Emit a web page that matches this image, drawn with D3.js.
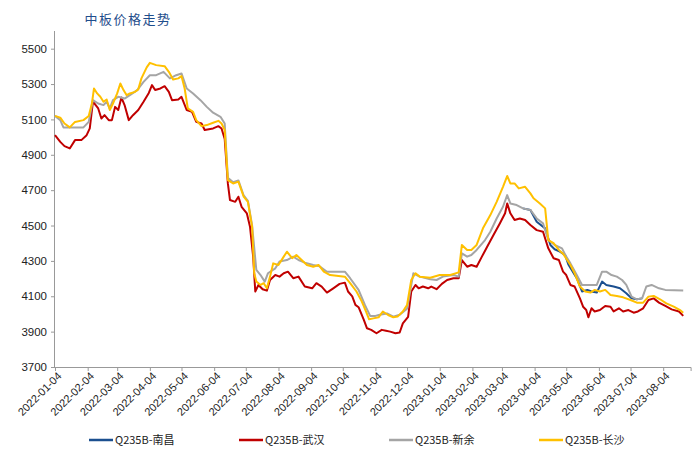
<!DOCTYPE html>
<html>
<head>
<meta charset="utf-8">
<script src="https://cdn.jsdelivr.net/npm/d3@7"></script>
<style>
  body { margin: 0; background: #fff; }
  svg { display: block; }
</style>
</head>
<body>
<svg width="700" height="461"></svg>
<script>
const title = '中板价格走势'

const tickLabels = ['2022-01-04', '2022-02-04', '2022-03-04', '2022-04-04', '2022-05-04', '2022-06-04',
  '2022-07-04', '2022-08-04', '2022-09-04', '2022-10-04', '2022-11-04', '2022-12-04', '2023-01-04',
  '2023-02-04', '2023-03-04', '2023-04-04', '2023-05-04', '2023-06-04', '2023-07-04', '2023-08-04']
const yTicks = [3700, 3900, 4100, 4300, 4500, 4700, 4900, 5100, 5300, 5500]

const seriesNames = ['Q235B-南昌', 'Q235B-武汉', 'Q235B-新余', 'Q235B-长沙']

// 南昌 (only visible where it leaves 新余)
const nanchangDates = ['2023-03-24', '2023-03-31', '2023-04-06', '2023-04-14', '2023-04-19', '2023-04-23',
  '2023-04-28', '2023-05-03', '2023-05-06', '2023-05-14', '2023-05-19', '2023-05-24', '2023-05-28',
  '2023-06-02', '2023-06-07', '2023-06-11', '2023-06-18', '2023-06-24', '2023-06-30', '2023-07-05',
  '2023-07-10', '2023-07-15']
const nanchangPrices = [4597, 4588, 4521, 4484, 4390, 4366, 4352, 4333, 4280, 4202, 4127, 4136, 4127,
  4121, 4183, 4164, 4155, 4145, 4117, 4088, 4083, 4088]

const wuhanDates = ['2022-01-04', '2022-01-09', '2022-01-13', '2022-01-18', '2022-01-23', '2022-01-29',
  '2022-02-03', '2022-02-06', '2022-02-09', '2022-02-14', '2022-02-17', '2022-02-20', '2022-02-24',
  '2022-02-27', '2022-03-02', '2022-03-05', '2022-03-08', '2022-03-11', '2022-03-15', '2022-03-19',
  '2022-03-24', '2022-03-29', '2022-04-03', '2022-04-06', '2022-04-09', '2022-04-14', '2022-04-18',
  '2022-04-22', '2022-04-25', '2022-05-01', '2022-05-04', '2022-05-09', '2022-05-14', '2022-05-18',
  '2022-05-23', '2022-05-26', '2022-06-03', '2022-06-08', '2022-06-11', '2022-06-14', '2022-06-17',
  '2022-06-19', '2022-06-24', '2022-06-27', '2022-06-30', '2022-07-05', '2022-07-08', '2022-07-11',
  '2022-07-13', '2022-07-16', '2022-07-20', '2022-07-24', '2022-07-27', '2022-08-01', '2022-08-05',
  '2022-08-09', '2022-08-13', '2022-08-18', '2022-08-23', '2022-08-29', '2022-09-05', '2022-09-09',
  '2022-09-14', '2022-09-19', '2022-09-25', '2022-10-01', '2022-10-06', '2022-10-09', '2022-10-13',
  '2022-10-16', '2022-10-19', '2022-10-24', '2022-10-27', '2022-10-31', '2022-11-05', '2022-11-10',
  '2022-11-14', '2022-11-18', '2022-11-23', '2022-11-27', '2022-11-30', '2022-12-05', '2022-12-08',
  '2022-12-12', '2022-12-15', '2022-12-19', '2022-12-24', '2022-12-27', '2023-01-01', '2023-01-06',
  '2023-01-11', '2023-01-17', '2023-01-22', '2023-01-25', '2023-01-30', '2023-02-03', '2023-02-08',
  '2023-02-13', '2023-02-18', '2023-02-24', '2023-03-02', '2023-03-07', '2023-03-09', '2023-03-12',
  '2023-03-16', '2023-03-21', '2023-03-26', '2023-03-31', '2023-04-06', '2023-04-12', '2023-04-17',
  '2023-04-22', '2023-04-27', '2023-05-01', '2023-05-04', '2023-05-08', '2023-05-12', '2023-05-17',
  '2023-05-20', '2023-05-23', '2023-05-25', '2023-05-28', '2023-05-31', '2023-06-05', '2023-06-10',
  '2023-06-15', '2023-06-18', '2023-06-23', '2023-06-27', '2023-07-02', '2023-07-07', '2023-07-11',
  '2023-07-16', '2023-07-21', '2023-07-26', '2023-07-31', '2023-08-06', '2023-08-12', '2023-08-19',
  '2023-08-23']
const wuhanPrices = [5011, 4973, 4949, 4936, 4983, 4983, 5011, 5049, 5200, 5162, 5105, 5124, 5096,
  5096, 5171, 5153, 5224, 5181, 5096, 5124, 5153, 5200, 5250, 5294, 5266, 5275, 5288, 5256, 5209,
  5213, 5228, 5153, 5143, 5086, 5077, 5040, 5049, 5062, 5049, 4990, 4738, 4644, 4634, 4663, 4606,
  4569, 4493, 4324, 4127, 4164, 4140, 4132, 4192, 4220, 4211, 4230, 4239, 4202, 4211, 4155, 4145,
  4174, 4155, 4121, 4145, 4170, 4177, 4127, 4099, 4051, 4038, 3966, 3919, 3910, 3891, 3910, 3905,
  3900, 3891, 3895, 3947, 3984, 4127, 4164, 4145, 4155, 4145, 4155, 4140, 4170, 4192, 4202, 4202,
  4305, 4267, 4277, 4267, 4324, 4380, 4446, 4512, 4569, 4625, 4569, 4531, 4540, 4531, 4503, 4474,
  4465, 4371, 4315, 4305, 4239, 4220, 4164, 4155, 4088, 4041, 4022, 3981, 4032, 4014, 4022, 4045,
  4041, 4014, 4032, 4014, 4022, 4007, 4014, 4032, 4079, 4088, 4064, 4045, 4026, 4014, 3989]

const xinyuDates = ['2022-01-04', '2022-01-09', '2022-01-12', '2022-01-31', '2022-02-05', '2022-02-09',
  '2022-02-14', '2022-02-19', '2022-02-22', '2022-02-25', '2022-02-28', '2022-03-05', '2022-03-11',
  '2022-03-16', '2022-03-23', '2022-03-29', '2022-04-04', '2022-04-10', '2022-04-17', '2022-04-23',
  '2022-04-29', '2022-05-04', '2022-05-09', '2022-05-15', '2022-05-22', '2022-05-28', '2022-06-03',
  '2022-06-10', '2022-06-14', '2022-06-17', '2022-06-22', '2022-06-27', '2022-07-02', '2022-07-06',
  '2022-07-10', '2022-07-14', '2022-07-18', '2022-07-22', '2022-07-25', '2022-08-01', '2022-08-05',
  '2022-08-12', '2022-08-18', '2022-08-23', '2022-08-29', '2022-09-06', '2022-09-12', '2022-09-19',
  '2022-10-06', '2022-10-11', '2022-10-19', '2022-10-25', '2022-10-30', '2022-11-04', '2022-11-08',
  '2022-11-15', '2022-11-21', '2022-11-27', '2022-12-04', '2022-12-10', '2022-12-16', '2022-12-26',
  '2023-01-01', '2023-01-07', '2023-01-17', '2023-01-22', '2023-01-25', '2023-01-30', '2023-02-03',
  '2023-02-08', '2023-02-16', '2023-02-21', '2023-02-27', '2023-03-05', '2023-03-09', '2023-03-12',
  '2023-03-18', '2023-03-24', '2023-03-31', '2023-04-06', '2023-04-12', '2023-04-17', '2023-04-23',
  '2023-04-30', '2023-05-04', '2023-05-08', '2023-05-14', '2023-05-19', '2023-06-02', '2023-06-07',
  '2023-06-11', '2023-06-16', '2023-06-21', '2023-06-26', '2023-06-30', '2023-07-05', '2023-07-10',
  '2023-07-15', '2023-07-19', '2023-07-24', '2023-07-31', '2023-08-06', '2023-08-23']
const xinyuPrices = [5120, 5096, 5055, 5055, 5086, 5209, 5190, 5181, 5200, 5162, 5209, 5228, 5218,
  5237, 5266, 5312, 5350, 5350, 5369, 5332, 5350, 5360, 5275, 5247, 5209, 5171, 5138, 5115, 5077,
  4770, 4745, 4755, 4670, 4640, 4500, 4249, 4220, 4183, 4230, 4258, 4296, 4305, 4324, 4305, 4290,
  4277, 4270, 4239, 4239, 4202, 4136, 4051, 3989, 3989, 3995, 4003, 3985, 3995, 4030, 4230, 4211,
  4196, 4192, 4211, 4220, 4211, 4343, 4324, 4333, 4362, 4418, 4465, 4540, 4606, 4672, 4625, 4616,
  4597, 4588, 4540, 4512, 4418, 4390, 4371, 4324, 4286, 4220, 4164, 4164, 4239, 4239, 4220, 4211,
  4192, 4164, 4098, 4083, 4088, 4155, 4164, 4145, 4136, 4132]

const changshaDates = ['2022-01-04', '2022-01-09', '2022-01-13', '2022-01-18', '2022-01-23', '2022-01-31',
  '2022-02-05', '2022-02-08', '2022-02-10', '2022-02-13', '2022-02-16', '2022-02-19', '2022-02-22',
  '2022-02-25', '2022-02-28', '2022-03-04', '2022-03-07', '2022-03-10', '2022-03-13', '2022-03-16',
  '2022-03-21', '2022-03-24', '2022-03-27', '2022-04-01', '2022-04-04', '2022-04-10', '2022-04-18',
  '2022-04-22', '2022-04-26', '2022-05-01', '2022-05-04', '2022-05-07', '2022-05-10', '2022-05-15',
  '2022-05-18', '2022-05-23', '2022-05-28', '2022-06-03', '2022-06-08', '2022-06-11', '2022-06-14',
  '2022-06-17', '2022-06-22', '2022-06-27', '2022-07-02', '2022-07-06', '2022-07-10', '2022-07-12',
  '2022-07-14', '2022-07-18', '2022-07-21', '2022-07-24', '2022-07-27', '2022-07-30', '2022-08-04',
  '2022-08-09', '2022-08-12', '2022-08-17', '2022-08-21', '2022-08-26', '2022-08-31', '2022-09-06',
  '2022-09-11', '2022-09-16', '2022-09-22', '2022-10-06', '2022-10-11', '2022-10-17', '2022-10-22',
  '2022-10-26', '2022-10-29', '2022-11-02', '2022-11-07', '2022-11-11', '2022-11-16', '2022-11-21',
  '2022-11-25', '2022-11-30', '2022-12-04', '2022-12-08', '2022-12-12', '2022-12-16', '2022-12-26',
  '2023-01-04', '2023-01-14', '2023-01-22', '2023-01-25', '2023-01-30', '2023-02-03', '2023-02-08',
  '2023-02-14', '2023-02-21', '2023-02-27', '2023-03-05', '2023-03-09', '2023-03-12', '2023-03-16',
  '2023-03-20', '2023-03-26', '2023-03-31', '2023-04-03', '2023-04-09', '2023-04-14', '2023-04-17',
  '2023-04-22', '2023-04-27', '2023-05-01', '2023-05-08', '2023-05-12', '2023-05-17', '2023-05-22',
  '2023-05-27', '2023-05-31', '2023-06-05', '2023-06-10', '2023-06-15', '2023-06-21', '2023-06-27',
  '2023-07-04', '2023-07-10', '2023-07-16', '2023-07-21', '2023-07-26', '2023-08-01', '2023-08-07',
  '2023-08-14', '2023-08-20', '2023-08-23']
const changshaPrices = [5120, 5110, 5077, 5055, 5086, 5096, 5119, 5190, 5275, 5247, 5228, 5200, 5213,
  5153, 5190, 5247, 5303, 5266, 5237, 5247, 5256, 5270, 5332, 5394, 5420, 5407, 5401, 5369, 5326,
  5332, 5345, 5275, 5162, 5143, 5096, 5062, 5068, 5081, 5092, 5077, 5040, 4757, 4738, 4748, 4663,
  4634, 4493, 4230, 4183, 4164, 4174, 4145, 4211, 4286, 4277, 4324, 4352, 4315, 4333, 4305, 4277,
  4267, 4277, 4239, 4220, 4211, 4174, 4127, 4071, 4014, 3970, 3975, 3981, 4014, 3994, 3981, 3985,
  4014, 4051, 4192, 4230, 4211, 4205, 4220, 4220, 4235, 4390, 4362, 4362, 4390, 4484, 4559, 4634,
  4719, 4780, 4738, 4738, 4710, 4719, 4682, 4654, 4625, 4597, 4418, 4400, 4362, 4340, 4277, 4230,
  4155, 4127, 4121, 4136, 4127, 4136, 4107, 4102, 4094, 4079, 4064, 4064, 4098, 4102, 4083, 4060,
  4041, 4022, 4007]

const colors = ['#1B4F8F', '#C00000', '#A5A5A5', '#FFC000']

const parse = d3.timeParse('%Y-%m-%d')
const zip = (dates, values) => dates.map((d, i) => [parse(d), values[i]])

const series = [
  zip(nanchangDates, nanchangPrices),
  zip(wuhanDates, wuhanPrices),
  zip(xinyuDates, xinyuPrices),
  zip(changshaDates, changshaPrices),
]

const svg = d3.select('svg')

const x = d3.scaleTime()
  .domain([parse('2022-01-04'), parse('2023-08-30')])
  .range([55, 690.6])

const y = d3.scaleLinear()
  .domain([3700, 5600])
  .range([367, 31])

svg.append('text')
  .attr('x', 128)
  .attr('y', 24)
  .attr('text-anchor', 'middle')
  .attr('fill', '#1F4E8C')
  .style('font-family', '"Noto Sans CJK SC"')
  .style('font-size', '13px')
  .style('letter-spacing', '1.5px')
  .text(title)

// y axis
const yAxis = svg.append('g')
  .attr('transform', 'translate(55,0)')
  .call(d3.axisLeft(y).tickValues(yTicks).tickSize(4).tickPadding(4).tickFormat(d3.format('d')))
yAxis.select('.domain').attr('stroke', '#999').attr('d', 'M-0.5,31V367.5')
yAxis.selectAll('.tick line').attr('stroke', '#999')
yAxis.selectAll('text')
  .attr('fill', '#222')
  .style('font-family', '"Liberation Sans", Arial, sans-serif')
  .style('font-size', '11.5px')

// x axis
const xAxis = svg.append('g')
  .attr('transform', 'translate(0,367)')
  .call(d3.axisBottom(x).tickValues(tickLabels.map(parse)).tickSize(4).tickFormat(d3.timeFormat('%Y-%m-%d')))
xAxis.select('.domain').attr('stroke', '#999')
xAxis.selectAll('.tick line').attr('stroke', '#999')
xAxis.selectAll('text')
  .attr('fill', '#222')
  .attr('text-anchor', 'end')
  .attr('transform', 'translate(4,7) rotate(-45)')
  .attr('dy', '0.35em')
  .attr('y', 0)
  .style('font-family', '"Liberation Sans", Arial, sans-serif')
  .style('font-size', '11px')

const line = d3.line()
  .x(d => x(d[0]))
  .y(d => y(d[1]))

svg.append('g')
  .selectAll('path')
  .data(series)
  .join('path')
  .attr('fill', 'none')
  .attr('stroke', (d, i) => colors[i])
  .attr('stroke-width', 2)
  .attr('stroke-linejoin', 'round')
  .attr('d', line)

// legend
const legend = svg.append('g')
  .selectAll('g')
  .data(seriesNames)
  .join('g')
  .attr('transform', (d, i) => `translate(${89 + i * 150},440)`)

legend.append('line')
  .attr('x1', 0)
  .attr('x2', 24)
  .attr('stroke', (d, i) => colors[i])
  .attr('stroke-width', 2.5)

legend.append('text')
  .attr('x', 26)
  .attr('dy', '0.35em')
  .attr('fill', '#222')
  .style('font-family', '"Noto Sans CJK SC"')
  .style('font-size', '11px')
  .text(d => d)
</script>
</body>
</html>
